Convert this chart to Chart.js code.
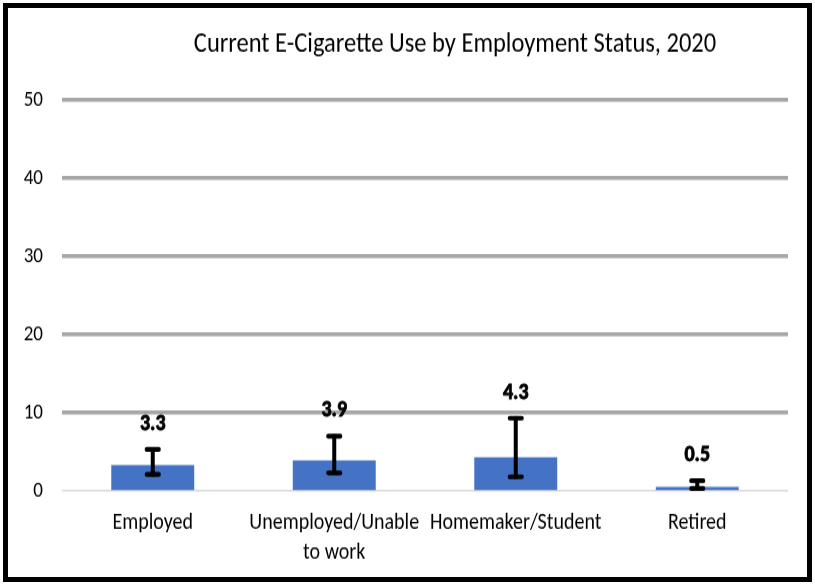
<!DOCTYPE html>
<html>
<head>
<meta charset="utf-8">
<script src="https://cdn.jsdelivr.net/npm/chart.js@4/dist/chart.umd.min.js"></script>
<style>
  html, body { margin: 0; padding: 0; background: #fff; }
  #wrap { position: relative; width: 815px; height: 584px; overflow: hidden; }
  /* the chart is drawn on a shorter canvas and stretched to full height */
  #c { display: block; position: absolute; left: 0; top: 0; }
  #frame {
    position: absolute; left: 3px; top: 3px; width: 799px; height: 569px;
    border: 5px solid #000; pointer-events: none;
  }
</style>
</head>
<body>
<div id="wrap">
  <canvas id="c" width="815" height="508" style="width:815px;height:584px;"></canvas>
  <div id="frame"></div>
</div>
<script>
// Current e-cigarette use (%) by employment status, 2020
const categories = ['Employed', ['Unemployed/Unable', 'to work'], 'Homemaker/Student', 'Retired'];
const usePercent = [3.3, 3.9, 4.3, 0.5];
const ciLower = [2.1, 2.3, 1.8, 0.3];
const ciUpper = [5.3, 7.0, 9.3, 1.3];
const yTicks = [0, 10, 20, 30, 40, 50];

const FONT = 'Carlito, Calibri, Lato, "Open Sans", sans-serif';
const TITLE = 'Current E-Cigarette Use by Employment Status, 2020';

const titlePlugin = {
  id: 'titleText',
  afterDraw(chart) {
    const ctx = chart.ctx;
    ctx.save();
    ctx.fillStyle = '#000';
    ctx.font = '24.5px ' + FONT;
    ctx.textAlign = 'center';
    ctx.textBaseline = 'middle';
    ctx.fillText(TITLE, 455, 39);
    ctx.restore();
  }
};

// Confidence-interval whiskers and value labels
const errorBarPlugin = {
  id: 'errorBars',
  afterDatasetsDraw(chart) {
    const ctx = chart.ctx;
    const y = chart.scales.y;
    const meta = chart.getDatasetMeta(0);
    ctx.save();
    ctx.strokeStyle = '#000';
    ctx.lineCap = 'round';
    meta.data.forEach((bar, i) => {
      const x = bar.x;
      const yl = y.getPixelForValue(ciLower[i]);
      const yu = y.getPixelForValue(ciUpper[i]);
      ctx.lineWidth = 4;
      ctx.beginPath();
      ctx.moveTo(x, yl);
      ctx.lineTo(x, yu);
      ctx.stroke();
      ctx.lineWidth = 4.2;
      ctx.beginPath();
      ctx.moveTo(x - 6, yu); ctx.lineTo(x + 6, yu);
      ctx.moveTo(x - 6, yl); ctx.lineTo(x + 6, yl);
      ctx.stroke();

      // value label, drawn slightly heavier with a thin outline
      const txt = usePercent[i].toFixed(1);
      ctx.fillStyle = '#000';
      ctx.font = 'bold 20px ' + FONT;
      ctx.textAlign = 'center';
      ctx.textBaseline = 'middle';
      ctx.lineWidth = 0.8;
      ctx.lineCap = 'butt';
      ctx.strokeText(txt, x, yu - 22);
      ctx.fillText(txt, x, yu - 22);
      ctx.lineCap = 'round';
    });
    ctx.restore();
  }
};

new Chart(document.getElementById('c'), {
  type: 'bar',
  data: {
    labels: categories,
    datasets: [{
      data: usePercent,
      backgroundColor: '#4472C4',
      borderWidth: 0,
      categoryPercentage: 1.0,
      barPercentage: 0.457
    }]
  },
  options: {
    responsive: false,
    animation: false,
    devicePixelRatio: 1,
    layout: { padding: { top: 87, right: 27, bottom: 0, left: 0 } },
    plugins: { legend: { display: false }, tooltip: { enabled: false }, title: { display: false } },
    scales: {
      x: {
        grid: { display: false, drawTicks: false },
        border: { display: false },
        ticks: {
          color: '#000',
          padding: 15,
          maxRotation: 0,
          autoSkip: false,
          font: { family: FONT, size: 20, lineHeight: 1.3 }
        },
        afterFit(scale) { scale.height = 81; }
      },
      y: {
        min: 0,
        max: 50,
        afterBuildTicks(scale) { scale.ticks = yTicks.map(v => ({ value: v })); },
        grid: {
          drawTicks: false,
          color: ctx => ctx.tick && ctx.tick.value === 0 ? '#d9d9d9' : '#a6a6a6',
          lineWidth: ctx => ctx.tick && ctx.tick.value === 0 ? 1.5 : 3.5
        },
        border: { display: false },
        ticks: {
          color: '#000',
          padding: 19,
          font: { family: FONT, size: 19 }
        },
        afterFit(scale) { scale.width = 62; }
      }
    }
  },
  plugins: [titlePlugin, errorBarPlugin]
});
</script>
</body>
</html>
